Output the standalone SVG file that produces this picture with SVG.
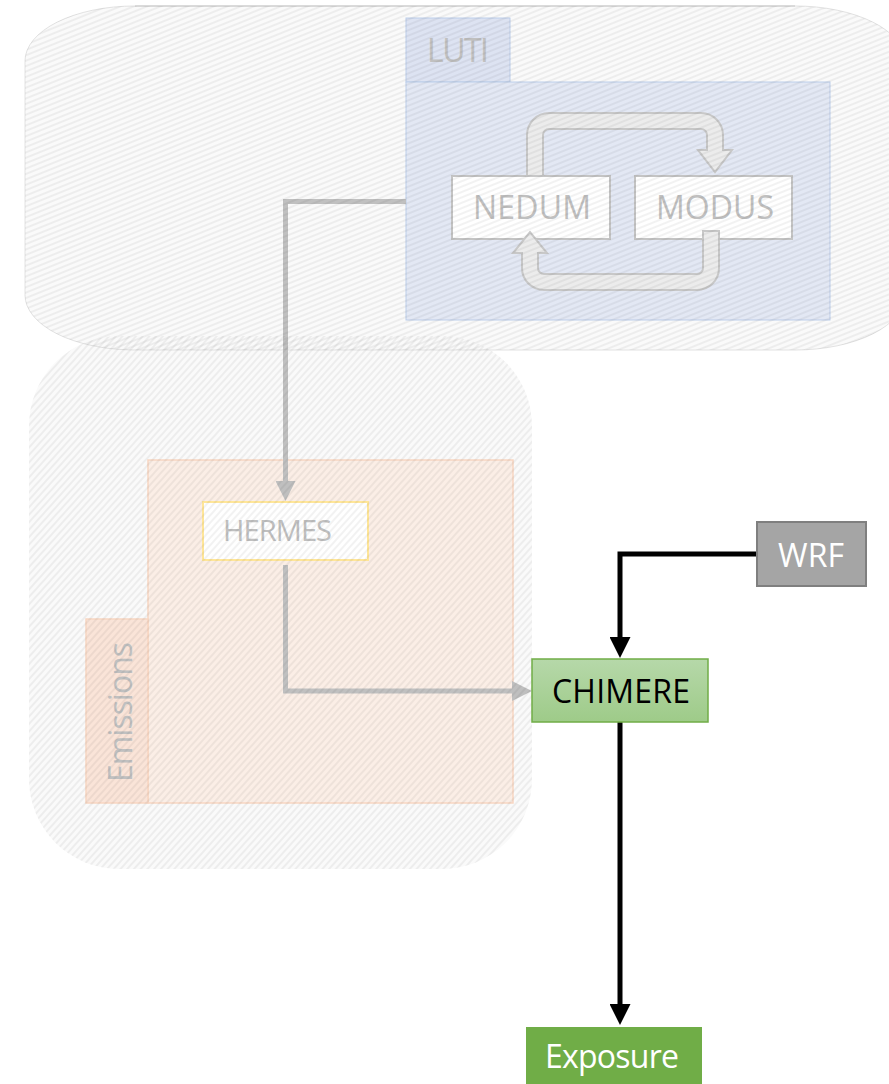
<svg xmlns="http://www.w3.org/2000/svg" width="889" height="1084" viewBox="0 0 889 1084">
  <defs>
    <pattern id="hatchTop" width="5" height="5" patternUnits="userSpaceOnUse" patternTransform="rotate(-22)">
      <rect x="0" y="0" width="5" height="2" fill="#000" fill-opacity="0.05"/>
    </pattern>
    <pattern id="hatchBot" width="5" height="5" patternUnits="userSpaceOnUse" patternTransform="rotate(-48)">
      <rect x="0" y="0" width="5" height="2" fill="#000" fill-opacity="0.05"/>
    </pattern>
    <linearGradient id="gradChimere" x1="0" y1="0" x2="0" y2="1">
      <stop offset="0" stop-color="#b6d8a9"/>
      <stop offset="1" stop-color="#9ecb89"/>
    </linearGradient>
    <marker id="arrGray" markerUnits="userSpaceOnUse" markerWidth="20" markerHeight="20" viewBox="0 0 19 19" refX="1" refY="9.5" orient="auto">
      <path d="M0,0 L19,9.5 L0,19 Z" fill="#bfbfbf"/>
    </marker>
    <marker id="arrBlack" markerUnits="userSpaceOnUse" markerWidth="21" markerHeight="21" viewBox="0 0 20 20" refX="1" refY="10" orient="auto">
      <path d="M0,0 L20,10 L0,20 Z" fill="#000"/>
    </marker>
    <style>
      .lbl { font-family: "Open Sans", "Noto Sans", "Liberation Sans", sans-serif; font-size: 32px; }
      .faded { fill: #c0c0c0; }
      .box { fill: #ffffff; stroke: #c4c4c4; stroke-width: 2; }
      .cyc { fill: #ececec; stroke: #c8c8c8; stroke-width: 2; }
      .gcon { fill: none; stroke: #c0c0c0; stroke-width: 5; marker-end: url(#arrGray); }
      .bcon { fill: none; stroke: #000; stroke-width: 5; marker-end: url(#arrBlack); }
    </style>
  </defs>

  <rect width="889" height="1084" fill="#ffffff"/>

  <g id="region-bottom">
    <rect x="29" y="336" width="503" height="533" rx="90" ry="90" fill="#fafafa"/>
  </g>
  <g id="region-top">
    <rect x="25" y="6" width="880" height="344" rx="110" ry="55" fill="#fafafa" stroke="#e2e2e2" stroke-width="1"/>
    <path d="M135,6 H795" stroke="#d2d2d2" stroke-width="1.5" fill="none"/>
  </g>

  <g id="node-luti">
    <rect x="406" y="18" width="104" height="64" fill="#dde3f2" stroke="#bccde9" stroke-width="1"/>
    <rect x="406" y="82" width="424" height="238" fill="#e3e8f4" stroke="#bccde9" stroke-width="1"/>
    <text class="lbl faded" x="427" y="62" textLength="62">LUTI</text>
  </g>

  <g id="node-nedum">
    <rect class="box" x="452" y="176" width="158" height="63"/>
    <text class="lbl faded" x="473" y="219" textLength="118">NEDUM</text>
  </g>
  <g id="node-modus">
    <rect class="box" x="635" y="176" width="157" height="63"/>
    <text class="lbl faded" x="656" y="219" textLength="118">MODUS</text>
  </g>

  <g id="cycle-arrows">
    <path class="cyc" d="M527,176 V135 A22,22 0 0 1 549,113 H701 A22,22 0 0 1 723,135 V150 H732 L715,172 L698,150 H707 V135 A6,6 0 0 0 701,129 H549 A6,6 0 0 0 543,135 V176 Z"/>
    <path class="cyc" d="M719,231 V268 A22,22 0 0 1 697,290 H544 A22,22 0 0 1 522,268 V253 H513 L530,232 L547,253 H538 V268 A6,6 0 0 0 544,274 H697 A6,6 0 0 0 703,268 V231 Z"/>
  </g>

  <g id="node-emissions">
    <rect x="148" y="460" width="365" height="343" fill="#fbeee6" stroke="#f8d6c2" stroke-width="1.5"/>
    <rect x="86" y="619" width="62" height="184" fill="#fae4d8" stroke="#f8d6c2" stroke-width="1.5"/>
    <text class="lbl faded" transform="translate(131.5,782) rotate(-90)" x="0" y="0" textLength="140">Emissions</text>
  </g>

  <g id="node-hermes">
    <rect x="203" y="502" width="165" height="58" fill="#ffffff" stroke="#ffe699" stroke-width="2"/>
    <text class="lbl faded" x="223" y="541" style="font-size:29px" textLength="109">HERMES</text>
  </g>

  <g id="connectors">
    <path class="gcon" d="M406,201.5 H285.5 V482"/>
    <path class="gcon" d="M285.5,565 V691 H513"/>
    <path class="bcon" d="M757,554 H620 V638"/>
    <path class="bcon" d="M620,722 V1005"/>
  </g>

  <g id="hatch-overlays">
    <rect x="29" y="336" width="503" height="533" rx="90" ry="90" fill="url(#hatchBot)"/>
    <rect x="25" y="6" width="880" height="344" rx="110" ry="55" fill="url(#hatchTop)"/>
  </g>

  <g id="node-chimere">
    <rect x="532" y="659" width="176" height="63" fill="url(#gradChimere)" stroke="#70ad47" stroke-width="1.5"/>
    <text class="lbl" x="552" y="703" fill="#000000" textLength="138">CHIMERE</text>
  </g>
  <g id="node-wrf">
    <rect x="757" y="522" width="109" height="64" fill="#a5a5a5" stroke="#7f7f7f" stroke-width="2"/>
    <text class="lbl" x="778" y="567" fill="#ffffff" textLength="66">WRF</text>
  </g>
  <g id="node-exposure">
    <rect x="526" y="1027" width="176" height="60" fill="#70ad47"/>
    <text class="lbl" x="545" y="1068" fill="#ffffff" textLength="134">Exposure</text>
  </g>
</svg>
